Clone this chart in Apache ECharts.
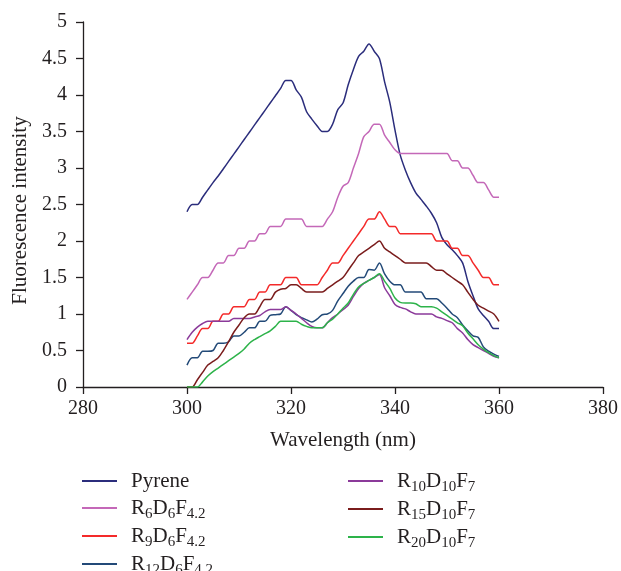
<!DOCTYPE html>
<html>
<head>
<meta charset="utf-8">
<script src="https://cdn.jsdelivr.net/npm/echarts@6/dist/echarts.min.js"></script>
<style>html,body{margin:0;padding:0;background:#fff}#c{width:621px;height:571px}</style>
</head>
<body>
<div id="c"></div>
<script>
var wavelengths = [300,301,302,303,304,305,306,307,308,309,310,311,312,313,314,315,316,317,318,319,320,
  321,322,323,324,325,326,327,328,329,330,331,332,333,334,335,336,337,338,339,340,
  341,342,343,344,345,346,347,348,349,350,351,352,353,354,355,356,357,358,359,360];

var pyrene = [2.40,2.50,2.50,2.60,2.70,2.80,2.89,2.99,3.09,3.19,3.29,3.39,3.49,3.59,3.69,3.79,3.89,3.99,4.09,4.20,4.20,
  4.07,3.97,3.77,3.67,3.58,3.50,3.50,3.60,3.80,3.89,4.14,4.35,4.53,4.60,4.70,4.60,4.50,4.18,3.90,3.52,
  3.18,2.97,2.80,2.66,2.57,2.48,2.38,2.25,2.05,1.95,1.88,1.80,1.70,1.45,1.25,1.07,0.98,0.90,0.80,0.80];

var r6d6f42 = [1.20,1.30,1.40,1.50,1.50,1.60,1.70,1.70,1.80,1.80,1.90,1.90,2.00,2.00,2.10,2.10,2.20,2.20,2.20,2.30,2.30,
  2.30,2.30,2.20,2.20,2.20,2.20,2.30,2.40,2.60,2.75,2.80,3.00,3.20,3.43,3.50,3.60,3.60,3.45,3.35,3.25,
  3.20,3.20,3.20,3.20,3.20,3.20,3.20,3.20,3.20,3.20,3.10,3.10,3.00,3.00,2.90,2.80,2.80,2.70,2.60,2.60];

var r9d6f42 = [0.60,0.60,0.70,0.80,0.80,0.90,0.90,1.00,1.00,1.10,1.10,1.10,1.20,1.20,1.30,1.30,1.40,1.40,1.40,1.50,1.50,
  1.50,1.40,1.40,1.40,1.40,1.50,1.60,1.70,1.70,1.80,1.90,2.00,2.10,2.20,2.30,2.30,2.40,2.30,2.20,2.20,
  2.10,2.10,2.10,2.10,2.10,2.10,2.10,2.00,2.00,2.00,1.90,1.90,1.80,1.80,1.70,1.60,1.50,1.50,1.40,1.40];

var r12d6f42 = [0.30,0.40,0.40,0.49,0.49,0.50,0.60,0.60,0.62,0.70,0.70,0.75,0.81,0.81,0.90,0.90,0.98,0.99,1.00,1.10,1.05,
  0.99,0.95,0.92,0.89,0.93,0.99,1.00,1.05,1.18,1.28,1.38,1.45,1.50,1.50,1.61,1.60,1.70,1.55,1.45,1.40,
  1.40,1.30,1.30,1.30,1.30,1.21,1.21,1.21,1.15,1.08,1.00,0.95,0.85,0.77,0.70,0.68,0.55,0.49,0.45,0.42];

var r10d10f7 = [0.65,0.75,0.82,0.87,0.90,0.90,0.90,0.90,0.90,0.94,0.94,0.94,0.94,0.96,0.98,1.03,1.06,1.06,1.06,1.10,1.05,
  1.00,0.94,0.88,0.83,0.81,0.81,0.88,0.95,1.00,1.06,1.12,1.24,1.35,1.42,1.46,1.50,1.54,1.36,1.25,1.13,
  1.09,1.07,1.03,1.00,1.00,1.00,1.00,0.96,0.94,0.91,0.88,0.80,0.74,0.65,0.58,0.54,0.50,0.46,0.42,0.40];

var r15d10f7 = [0.00,0.00,0.10,0.20,0.30,0.35,0.40,0.50,0.62,0.75,0.85,0.95,1.00,1.00,1.10,1.20,1.20,1.30,1.34,1.35,1.40,
  1.40,1.35,1.30,1.30,1.30,1.30,1.35,1.40,1.45,1.50,1.60,1.70,1.80,1.85,1.90,1.95,2.00,1.90,1.85,1.80,
  1.75,1.70,1.70,1.70,1.70,1.70,1.65,1.60,1.60,1.55,1.50,1.45,1.40,1.30,1.20,1.12,1.08,1.04,1.00,0.90];

var r20d10f7 = [0.00,0.00,0.00,0.07,0.15,0.21,0.26,0.31,0.36,0.41,0.46,0.52,0.60,0.65,0.69,0.73,0.77,0.83,0.90,0.90,0.90,
  0.90,0.86,0.83,0.81,0.81,0.81,0.88,0.93,1.00,1.08,1.15,1.27,1.37,1.42,1.46,1.50,1.55,1.45,1.35,1.22,
  1.16,1.15,1.15,1.14,1.10,1.10,1.10,1.08,1.03,0.98,0.93,0.88,0.84,0.74,0.66,0.58,0.52,0.47,0.43,0.40];

var seriesNames = ['Pyrene','R6D6F4.2','R9D6F4.2','R12D6F4.2','R10D10F7','R15D10F7','R20D10F7'];
var legendLabels = ['Pyrene','R{s|6}D{s|6}F{s|4.2}','R{s|9}D{s|6}F{s|4.2}','R{s|12}D{s|6}F{s|4.2}',
  'R{s|10}D{s|10}F{s|7}','R{s|15}D{s|10}F{s|7}','R{s|20}D{s|10}F{s|7}'];
var seriesColors = ['#2b2d7c','#c468b8','#f42a2a','#234a78','#8b3a9a','#7a1c1c','#2db34a'];
var seriesData = [pyrene, r6d6f42, r9d6f42, r12d6f42, r10d10f7, r15d10f7, r20d10f7];

var xTicks = {min: 280, max: 380, interval: 20};
var yTicks = {min: 0, max: 5, interval: 0.5};

var FONT = '"Liberation Serif", "DejaVu Serif", serif';
var chart = echarts.init(document.getElementById('c'), null, {renderer: 'canvas'});

function pairs(arr) {
  return wavelengths.map(function (w, i) { return [w, arr[i]]; });
}
var labelMap = {};
seriesNames.forEach(function (n, i) { labelMap[n] = legendLabels[i]; });

var legendText = {
  fontFamily: FONT, fontSize: 21, color: '#231f20', lineHeight: 26, padding: [0, 0, 0, 9],
  rich: {
    s: {fontFamily: FONT, fontSize: 15, color: '#231f20', verticalAlign: 'top', lineHeight: 14, padding: [12, 0, 0, 0]}
  }
};

var option = {
  animation: false,
  backgroundColor: '#fff',
  grid: {left: 83, right: 15, top: 22, bottom: 184, containLabel: false},
  xAxis: {
    type: 'value', min: xTicks.min, max: xTicks.max, interval: xTicks.interval,
    name: 'Wavelength (nm)', nameLocation: 'middle', nameGap: 43,
    nameTextStyle: {fontFamily: FONT, fontSize: 21, color: '#231f20'},
    axisLine: {show: true, lineStyle: {color: '#231f20', width: 1.3}},
    axisTick: {show: true, length: 7, lineStyle: {color: '#231f20', width: 1.3}},
    axisLabel: {fontFamily: FONT, fontSize: 20, color: '#231f20', margin: 12},
    splitLine: {show: false}
  },
  yAxis: {
    type: 'value', min: yTicks.min, max: yTicks.max, interval: yTicks.interval,
    name: 'Fluorescence intensity', nameLocation: 'middle', nameGap: 48, nameRotate: 90,
    nameTextStyle: {fontFamily: FONT, fontSize: 21, color: '#231f20', padding: [0, 12, 0, 0]},
    axisLine: {show: true, lineStyle: {color: '#231f20', width: 1.3}},
    axisTick: {show: true, length: 7, lineStyle: {color: '#231f20', width: 1.3}},
    axisLabel: {fontFamily: FONT, fontSize: 20, color: '#231f20', margin: 16},
    splitLine: {show: false}
  },
  legend: [
    {
      data: seriesNames.slice(0, 4), orient: 'vertical', left: 82, top: 468, height: 200, padding: 0,
      icon: 'rect', itemWidth: 35, itemHeight: 2, itemGap: 1,
      formatter: function (n) { return labelMap[n]; },
      textStyle: legendText
    },
    {
      data: seriesNames.slice(4), orient: 'vertical', left: 348, top: 468, height: 200, padding: 0,
      icon: 'rect', itemWidth: 35, itemHeight: 2, itemGap: 1,
      formatter: function (n) { return labelMap[n]; },
      textStyle: legendText
    }
  ],
  series: seriesNames.map(function (n, i) {
    return {
      name: n, type: 'line', data: pairs(seriesData[i]),
      showSymbol: false, symbol: 'none', smooth: 0.3,
      lineStyle: {color: seriesColors[i], width: 1.5},
      itemStyle: {color: seriesColors[i]}
    };
  })
};
chart.setOption(option);
</script>
</body>
</html>
